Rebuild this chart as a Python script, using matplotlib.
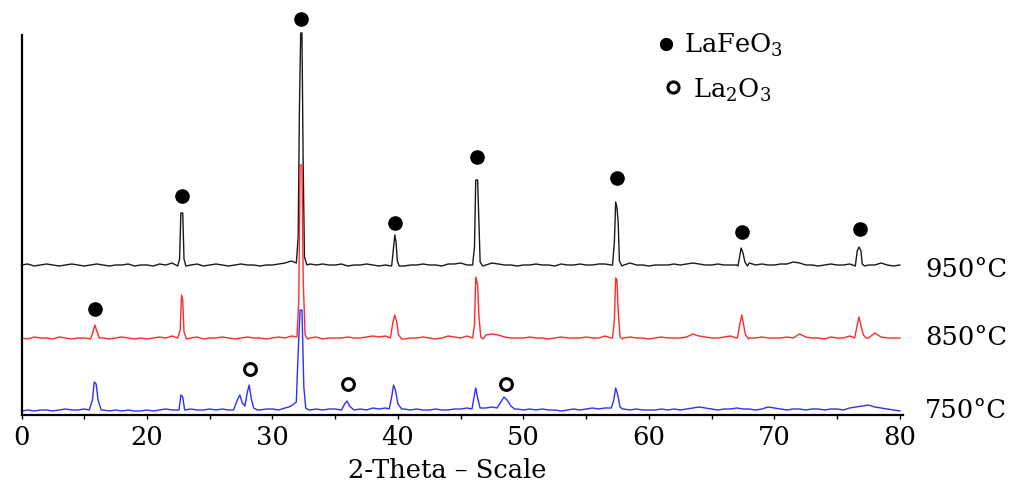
import matplotlib
matplotlib.use("Agg")
import matplotlib.pyplot as plt
import numpy as np

plt.rcParams["font.family"] = ["DejaVu Serif"]
plt.rcParams["mathtext.fontset"] = "dejavuserif"

# 2-theta grid for the background noise of each pattern (deg)
GRID = np.arange(10.0, 80.01, 0.5)

# background noise (a.u., one value per grid point)
NOISE_950 = [
    2, 3, 1, 2, 3, 2, 1, 2, 3, 2,
    1, 2, 3, 2, 1, 2, 2, 3, 1, 2,
    2, 1, 3, 2, 4, 5, 2, 2, 3, 1,
    2, 3, 2, 1, 2, 3, 2, 2, 1, 2,
    2, 3, 4, 6, 5, 2, 3, 2, 3, 2,
    2, 3, 1, 2, 2, 3, 2, 1, 2, 3,
    2, 1, 2, 2, 3, 2, 2, 1, 3, 3,
    4, 2, 2, 2, 2, 4, 3, 2, 2, 1,
    2, 2, 3, 2, 2, 1, 3, 2, 2, 3,
    2, 2, 3, 3, 2, 2, 2, 4, 2, 2,
    1, 2, 2, 2, 3, 2, 3, 4, 3, 2,
    2, 3, 2, 2, 2, 1, 4, 2, 3, 2,
    2, 3, 3, 5, 4, 2, 2, 1, 2, 3,
    2, 2, 3, 2, 2, 2, 2, 4, 2, 1,
    2,
]
NOISE_850 = [
    2, 1, 3, 2, 2, 1, 3, 2, 1, 2,
    2, 3, 2, 2, 1, 2, 3, 2, 1, 2,
    1, 2, 3, 2, 4, 2, 2, 2, 3, 1,
    2, 2, 3, 2, 1, 2, 3, 2, 2, 1,
    2, 3, 2, 4, 2, 2, 2, 3, 1, 2,
    2, 2, 3, 2, 2, 3, 4, 3, 4, 2,
    2, 1, 2, 2, 3, 2, 1, 2, 4, 3,
    2, 4, 2, 2, 5, 6, 5, 3, 2, 2,
    2, 3, 2, 2, 1, 2, 3, 2, 2, 2,
    3, 2, 2, 4, 2, 2, 2, 3, 2, 2,
    1, 2, 3, 2, 2, 2, 3, 6, 4, 3,
    2, 2, 3, 4, 2, 2, 2, 2, 3, 2,
    2, 2, 3, 2, 6, 3, 2, 2, 1, 3,
    2, 2, 4, 2, 2, 2, 7, 3, 2, 2,
    2,
]
NOISE_750 = [
    1, 2, 1, 2, 2, 1, 2, 3, 2, 2,
    3, 2, 2, 2, 1, 2, 1, 2, 1, 1,
    2, 1, 2, 3, 2, 2, 2, 3, 2, 2,
    3, 2, 3, 2, 2, 2, 2, 2, 2, 3,
    3, 2, 4, 2, 2, 2, 2, 3, 2, 3,
    3, 2, 2, 2, 3, 2, 4, 3, 4, 2,
    2, 3, 2, 3, 2, 2, 3, 2, 2, 3,
    3, 4, 2, 2, 4, 5, 2, 2, 2, 3,
    2, 3, 2, 3, 2, 2, 1, 2, 3, 2,
    3, 4, 3, 4, 2, 2, 3, 2, 3, 2,
    2, 2, 3, 2, 3, 2, 3, 4, 5, 4,
    3, 2, 3, 3, 4, 3, 3, 2, 3, 5,
    4, 3, 2, 3, 3, 2, 3, 3, 2, 3,
    3, 2, 4, 5, 6, 7, 5, 4, 3, 2,
    1,
]

# reflections: (2-theta, intensity) points
PEAKS_950 = [
    [(22.45, 1), (22.6, 8), (22.7, 54), (22.85, 54), (22.95, 8), (23.1, 1)],
    [(31.9, 4), (32.05, 30), (32.15, 160), (32.25, 234), (32.35, 234), (32.45, 100), (32.55, 10), (32.75, 2)],
    [(39.5, 1), (39.65, 20), (39.75, 32), (39.85, 25), (39.95, 6), (40.1, 1)],
    [(45.95, 2), (46.1, 20), (46.2, 87), (46.35, 87), (46.45, 45), (46.55, 5), (46.75, 1)],
    [(57.1, 2), (57.25, 25), (57.35, 65), (57.45, 60), (57.55, 45), (57.65, 6), (57.85, 1)],
    [(67.1, 1), (67.25, 12), (67.35, 19), (67.5, 14), (67.65, 5), (67.85, 1)],
    [(76.45, 1), (76.6, 16), (76.75, 20), (76.9, 16), (77.0, 3), (77.2, 1)],
]
PEAKS_850 = [
    [(15.5, 1), (15.7, 8), (15.85, 15), (16.0, 9), (16.2, 2)],
    [(22.45, 2), (22.65, 10), (22.75, 45), (22.85, 40), (22.95, 8), (23.15, 1)],
    [(31.95, 3), (32.1, 40), (32.2, 175), (32.35, 175), (32.45, 60), (32.6, 5), (32.8, 1)],
    [(39.4, 2), (39.6, 18), (39.75, 25), (39.9, 18), (40.05, 5), (40.3, 1)],
    [(45.95, 2), (46.1, 15), (46.2, 63), (46.35, 55), (46.45, 25), (46.6, 3), (46.8, 1)],
    [(57.1, 2), (57.25, 20), (57.35, 62), (57.45, 60), (57.55, 30), (57.7, 3), (57.9, 1)],
    [(67.05, 2), (67.25, 16), (67.4, 25), (67.55, 15), (67.7, 5), (67.95, 1)],
    [(76.4, 2), (76.6, 15), (76.75, 23), (76.9, 14), (77.1, 5), (77.3, 2)],
]
PEAKS_750 = [
    [(15.4, 2), (15.65, 12), (15.8, 30), (15.95, 28), (16.1, 12), (16.35, 2)],
    [(22.55, 2), (22.7, 17), (22.85, 15), (23.0, 2)],
    [(26.9, 2), (27.2, 12), (27.4, 17), (27.6, 9), (27.8, 6), (28.0, 20), (28.15, 27), (28.3, 14), (28.5, 4), (28.8, 2)],
    [(31.3, 5), (31.6, 7), (31.9, 10), (32.05, 60), (32.2, 102), (32.35, 102), (32.5, 25), (32.65, 4), (32.9, 2)],
    [(35.5, 2), (35.75, 8), (35.95, 11), (36.15, 6), (36.4, 3)],
    [(39.3, 3), (39.5, 15), (39.65, 27), (39.8, 22), (40.0, 8), (40.3, 3)],
    [(45.9, 3), (46.05, 14), (46.2, 24), (46.35, 14), (46.55, 4)],
    [(47.9, 4), (48.2, 10), (48.45, 15), (48.7, 12), (49.0, 6), (49.3, 3)],
    [(57.0, 4), (57.2, 12), (57.35, 24), (57.5, 18), (57.7, 5), (57.9, 3)],
]

SAMPLES = ["950°C", "850°C", "750°C"]
OFFSETS = [148, 75, 3]
COLORS = ["#1a1a1a", "#ff2a2a", "#2f2fff"]
# baseline of each temperature label, plot units
LABEL_Y = [138, 70, -3]

# phase markers (2-theta, height in plot units)
LAFEO3_X = [32.3, 22.8, 15.85, 39.8, 46.3, 57.45, 67.45, 76.8]
LAFEO3_Y = [396, 219, 106, 192, 258, 237, 183, 186]
LA2O3_X = [28.2, 36.0, 48.6]
LA2O3_Y = [46, 31, 31]


def build_pattern(noise, peaks):
    keep = np.ones(len(GRID), dtype=bool)
    for pk in peaks:
        lo, hi = pk[0][0], pk[-1][0]
        keep &= ~((GRID >= lo) & (GRID <= hi))
    xs = list(GRID[keep])
    ys = [yv for yv, k in zip(noise, keep) if k]
    for pk in peaks:
        for px, py in pk:
            xs.append(px)
            ys.append(py)
    order = np.argsort(xs)
    return np.array(xs)[order], np.array(ys)[order]


fig = plt.figure(figsize=(10.29, 4.84), dpi=100)
ax = fig.add_axes([21.5 / 1029, 69 / 484, 881.5 / 1029, 380 / 484])

patterns = [(NOISE_950, PEAKS_950), (NOISE_850, PEAKS_850), (NOISE_750, PEAKS_750)]
for (noise, peaks), off, col, lab, ly in zip(patterns, OFFSETS, COLORS, SAMPLES, LABEL_Y):
    x, y = build_pattern(noise, peaks)
    ax.plot(x, y + off, color=col, lw=1.0, clip_on=False)
    ax.text(82.0, ly, lab, fontsize=18.5, va="baseline", ha="left")

ax.plot(LAFEO3_X, LAFEO3_Y, "o", ms=9.5, color="black", clip_on=False)
ax.plot(LA2O3_X, LA2O3_Y, "o", ms=8.5, mfc="white", mec="black", mew=2.2, clip_on=False)

# legend drawn by hand
ax.plot([61.4], [371], "o", ms=8.5, color="black", clip_on=False)
ax.text(62.8, 362, "LaFeO$_3$", fontsize=18.5, va="baseline", ha="left")
ax.plot([61.9], [328], "o", ms=8, mfc="white", mec="black", mew=2.2, clip_on=False)
ax.text(63.5, 317, "La$_2$O$_3$", fontsize=18.5, va="baseline", ha="left")

ax.set_xlim(10, 80.25)
ax.set_ylim(0, 380)
ax.spines["top"].set_visible(False)
ax.spines["right"].set_visible(False)
ax.spines["left"].set_linewidth(1.6)
ax.spines["bottom"].set_linewidth(1.6)
ax.set_yticks([])
ax.set_xticks([10, 20, 30, 40, 50, 60, 70, 80])
ax.set_xticklabels(["0", "20", "30", "40", "50", "60", "70", "80"])
ax.set_xticks(np.arange(15, 80, 10), minor=True)
ax.tick_params(axis="x", which="both", direction="out", length=3, width=1, labelsize=18.5, pad=4)
ax.patch.set_alpha(0)

fig.text(447 / 1029, 1 - 470 / 484, "2-Theta – Scale", fontsize=18.5, ha="center", va="center")

fig.savefig("out.png", dpi=100)
